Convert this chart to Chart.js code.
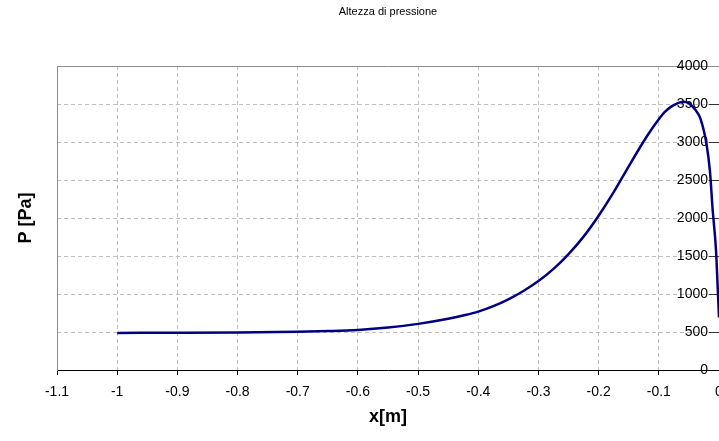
<!DOCTYPE html>
<html>
<head>
<meta charset="utf-8">
<script src="https://cdn.jsdelivr.net/npm/chart.js@4.4.0/dist/chart.umd.min.js"></script>
<style>
  html, body { margin: 0; padding: 0; background: #fff; }
</style>
</head>
<body>
<canvas id="grafico" width="719" height="441"></canvas>
<script>
"use strict";
// dati
const posizioneX = [-1, -0.9, -0.8, -0.7, -0.65, -0.6, -0.55, -0.5, -0.45, -0.425, -0.4, -0.375, -0.35,
    -0.325, -0.3, -0.275, -0.25, -0.225, -0.2, -0.175, -0.15, -0.125, -0.11, -0.1, -0.09, -0.08,
    -0.07, -0.06, -0.05, -0.04, -0.031, -0.0205, -0.015, -0.0105, -0.005, -0.002, 0];
const pressione = [488, 490, 494, 503, 512, 527, 558, 607, 674, 717, 768, 840, 930,
    1040, 1170, 1330, 1525, 1755, 2030, 2340, 2680, 3010, 3190, 3300, 3395, 3462,
    3505, 3528, 3508, 3430, 3310, 2960, 2610, 2105, 1580, 1055, 690];
const tickX = [-1.1, -1, -0.9, -0.8, -0.7, -0.6, -0.5, -0.4, -0.3, -0.2, -0.1, 0];
const tickY = [0, 500, 1000, 1500, 2000, 2500, 3000, 3500, 4000];

const famiglia = "'Liberation Sans', Arial, sans-serif";
const trasparente = "rgba(0,0,0,0)";
const grigioGriglia = "#c0c0c0";
const grigioBordo = "#8c8c8c";

const punti = posizioneX.map((x, i) => ({ x: x, y: pressione[i] }));

const grafico = new Chart(document.querySelector("#grafico"), {
    type: "line",
    data: {
        datasets: [
            {
                label: "P",
                data: punti,
                borderColor: "#000080",
                borderWidth: 2.5,
                pointRadius: 0,
                fill: false,
                cubicInterpolationMode: "monotone",
            },
        ],
    },
    options: {
        responsive: false,
        animation: false,
        layout: { padding: 0 },
        plugins: {
            legend: { display: false },
            tooltip: { enabled: false },
            title: {
                display: true,
                text: "Altezza di pressione",
                fullSize: false,
                color: "#000",
                font: { family: famiglia, size: 11, weight: "normal" },
                padding: { top: 5, bottom: 47.8 },
            },
        },
        scales: {
            x: {
                type: "linear",
                min: -1.1,
                max: 0,
                afterBuildTicks: (scale) => {
                    scale.ticks = tickX.map((v) => ({ value: v }));
                },
                afterFit: (scale) => {
                    scale.paddingLeft = 0;
                    scale.paddingRight = 0;
                },
                ticks: {
                    color: "#000",
                    font: { family: famiglia, size: 14 },
                    padding: 9,
                    maxRotation: 0,
                    autoSkip: false,
                    callback: (v) => String(v),
                },
                grid: {
                    color: (ctx) =>
                        ctx.tick && (ctx.tick.value === 0 || ctx.tick.value === -1.1)
                            ? trasparente
                            : grigioGriglia,
                    tickColor: "#000",
                    tickLength: 5,
                    tickBorderDash: [],
                    lineWidth: 1,
                },
                border: { display: true, color: "#000", width: 1, dash: [4, 3] },
                title: {
                    display: true,
                    text: "x[m]",
                    color: "#000",
                    font: { family: famiglia, size: 18, weight: "bold" },
                    padding: { top: -3.6, bottom: 13.2 },
                },
            },
            xTop: {
                axis: "x",
                type: "linear",
                position: "top",
                ticks: { display: false },
                grid: { display: false, drawTicks: false },
                border: { display: true, color: grigioBordo, width: 1 },
            },
            // asse verticale in x = 0: griglia e tacche
            y: {
                type: "linear",
                position: { x: 0 },
                min: 0,
                max: 4000,
                afterBuildTicks: (scale) => {
                    scale.ticks = tickY.map((v) => ({ value: v }));
                },
                ticks: { display: false },
                grid: {
                    color: (ctx) =>
                        ctx.tick && (ctx.tick.value === 0 || ctx.tick.value === 4000)
                            ? trasparente
                            : grigioGriglia,
                    tickColor: "#333",
                    tickLength: 10,
                    tickBorderDash: [],
                    lineWidth: 1,
                },
                border: { display: false, dash: [4, 3] },
            },
            // etichette dell'asse verticale, poco a sinistra delle tacche
            yEtichette: {
                axis: "y",
                type: "linear",
                position: { x: -0.0183 },
                min: 0,
                max: 4000,
                afterBuildTicks: (scale) => {
                    scale.ticks = tickY.map((v) => ({ value: v }));
                },
                ticks: {
                    color: "#000",
                    font: { family: famiglia, size: 14 },
                    callback: (v) => String(v),
                },
                grid: { display: false, drawTicks: false },
                border: { display: false },
            },
            yTitle: {
                axis: "y",
                type: "linear",
                position: "left",
                ticks: { display: false },
                grid: { display: false, drawTicks: false },
                border: { display: true, color: grigioBordo, width: 1 },
                title: {
                    display: true,
                    text: "P [Pa]",
                    color: "#000",
                    font: { family: famiglia, size: 18, weight: "bold" },
                    padding: { top: 15.7, bottom: 19.7 },
                },
            },
        },
    },
});
</script>
</body>
</html>
